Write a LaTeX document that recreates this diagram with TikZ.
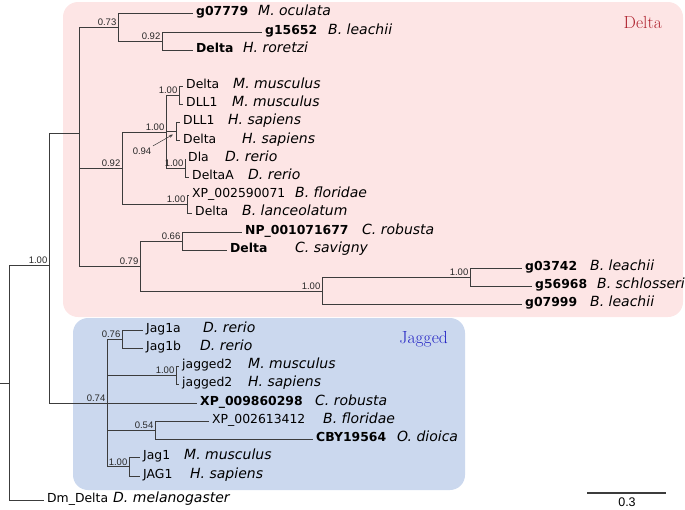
\documentclass[tikz,border=0pt]{standalone}
\usepackage{fontspec}
\newfontfamily\idfont{Liberation Sans}
\newfontfamily\djv{DejaVu Sans}
\usetikzlibrary{arrows.meta}
\definecolor{lc}{RGB}{60,60,60}
\definecolor{pinkbg}{RGB}{253,229,229}
\definecolor{bluebg}{RGB}{203,216,238}
\definecolor{deltared}{RGB}{176,36,48}
\definecolor{jagblue}{RGB}{36,36,196}
\definecolor{txtg}{RGB}{40,40,40}
\newcommand{\tleaf}[6]{%
  \coordinate (#1) at (#2,#3);
  \node[idl] (#1-id) at ([xshift=3pt]#1) {#4};
  \node[spl] (#1-sp) at (#5,#3) {#6};
}
\begin{document}
\begin{tikzpicture}[x=1pt,y=-1pt,
  br/.style={draw=lc, line width=0.9pt},
  idl/.style={anchor=mid west, inner sep=0pt, font=\djv\fontsize{12.4}{14}\selectfont, text=black},
  spl/.style={anchor=mid west, inner sep=0pt, font=\djv\itshape\fontsize{14}{16}\selectfont, text=black},
  bsl/.style={anchor=south east, inner sep=1.5pt, font=\idfont\fontsize{9.5}{11}\selectfont, text=txtg},
  grp/.style={font=\fontsize{17.5}{20}\selectfont, inner sep=0pt}
]
\useasboundingbox (0,0) rectangle (685,509);
% clade boxes
\fill[pinkbg, rounded corners=15pt] (63,2) rectangle (683,317);
\fill[bluebg, rounded corners=15pt] (73,318) rectangle (465,490);
\node[grp, text=deltared, anchor=east] (gdelta) at (662,22) {Delta};
\node[grp, text=jagblue, anchor=east] (gjag) at (448,339) {Jagged};

% internal nodes
\coordinate (R0) at (0,383);
\coordinate (R) at (9,383);
\coordinate (A) at (49,265);
\coordinate (D) at (79,133);
\coordinate (J) at (107,403);
\coordinate (n73) at (118,27);
\coordinate (n92a) at (162,41);
\coordinate (n92b) at (122,168);
\coordinate (V) at (166,132);
\coordinate (Mm) at (179,95.4);
\coordinate (Hs) at (176,131.8);
\coordinate (Dr) at (185,168.2);
\coordinate (Am) at (187,204.6);
\coordinate (n79) at (140,266);
\coordinate (n66) at (182,241);
\coordinate (N1) at (322,291);
\coordinate (N2) at (470,277);
\coordinate (n76) at (122,339.1);
\coordinate (jg2) at (176,375.6);
\coordinate (n54) at (155,430.4);
\coordinate (jg1) at (129,466.9);

% leaves
\tleaf{g07779}{193}{13.5}{\textbf{g07779}}{258}{M. oculata}
\tleaf{g15652}{262}{32}{\textbf{g15652}}{328}{B. leachii}
\tleaf{dHr}{193}{50}{\textbf{Delta}}{243}{H. roretzi}
\tleaf{dMm}{183}{86.3}{Delta}{233}{M. musculus}
\tleaf{lMm}{183}{104.5}{DLL1}{232}{M. musculus}
\tleaf{lHs}{180}{122.7}{DLL1}{228}{H. sapiens}
\tleaf{dHs}{180}{140.9}{Delta}{242}{H. sapiens}
\tleaf{dla}{185}{159}{Dla}{225}{D. rerio}
\tleaf{dlA}{189}{177.3}{DeltaA}{248}{D. rerio}
\tleaf{xp59}{189}{195.5}{XP\_002590071}{295}{B. floridae}
\tleaf{dBl}{192}{213.7}{Delta}{242}{B. lanceolatum}
\tleaf{np}{242}{232}{\textbf{NP\_001071677}}{362}{C. robusta}
\tleaf{dCs}{227}{250}{\textbf{Delta}}{295}{C. savigny}
\tleaf{g03742}{522}{268}{\textbf{g03742}}{590}{B. leachii}
\tleaf{g56968}{532}{286.5}{\textbf{g56968}}{597}{B. schlosseri}
\tleaf{g07999}{522}{304.7}{\textbf{g07999}}{590}{B. leachii}
\tleaf{j1a}{143}{330}{Jag1a}{203}{D. rerio}
\tleaf{j1b}{143}{348.2}{Jag1b}{200}{D. rerio}
\tleaf{j2Mm}{179}{366.5}{jagged2}{248}{M. musculus}
\tleaf{j2Hs}{179}{384.7}{jagged2}{248}{H. sapiens}
\tleaf{xp98}{197}{403}{\textbf{XP\_009860298}}{315}{C. robusta}
\tleaf{xp61}{209}{421.2}{XP\_002613412}{323}{B. floridae}
\tleaf{cby}{313}{439.5}{\textbf{CBY19564}}{397}{O. dioica}
\tleaf{jMm}{140}{457.8}{Jag1}{184}{M. musculus}
\tleaf{jHs}{140}{476}{JAG1}{190}{H. sapiens}
\tleaf{dm}{44}{500}{Dm\_Delta}{113}{D. melanogaster}

% branches
\draw[br] (R0) -- (R);
\foreach \p/\c in {R/A, R/dm, A/D, A/J, D/n73, D/n92b, D/n79,
  n73/g07779, n73/n92a, n92a/g15652, n92a/dHr,
  n92b/V, n92b/Am, V/Mm, V/Hs, V/Dr, Mm/dMm, Mm/lMm, Hs/lHs, Hs/dHs,
  Dr/dla, Dr/dlA, Am/xp59, Am/dBl,
  n79/n66, n79/N1, n66/np, n66/dCs, N1/N2, N1/g07999, N2/g03742, N2/g56968,
  J/n76, J/jg2, J/xp98, J/n54, J/jg1, n76/j1a, n76/j1b, jg2/j2Mm, jg2/j2Hs,
  n54/xp61, n54/cby, jg1/jMm, jg1/jHs}
  \draw[br] (\p) |- (\c);

% support values
\node[bsl] (bA) at (A) {1.00};
\node[bsl] (bJ) at (J) {0.74};
\node[bsl] (b73) at (n73) {0.73};
\node[bsl] (b92a) at (n92a) {0.92};
\node[bsl] (b92b) at (n92b) {0.92};
\node[bsl] (bV) at (V) {1.00};
\node[bsl] (bMm) at (Mm) {1.00};
\node[bsl] (bDr) at (Dr) {1.00};
\node[bsl] (bAm) at (Am) {1.00};
\node[bsl] (b79) at (n79) {0.79};
\node[bsl] (b66) at (n66) {0.66};
\node[bsl] (bN1) at (N1) {1.00};
\node[bsl] (bN2) at (N2) {1.00};
\node[bsl] (b76) at (n76) {0.76};
\node[bsl] (bjg2) at (jg2) {1.00};
\node[bsl] (b54) at (n54) {0.54};
\node[bsl] (bjg1) at (jg1) {1.00};
\node[bsl, anchor=center] (bHs) at (142,151) {0.94};
\coordinate (HsTip) at (173,134.5);
\draw[lc, line width=0.5pt, -{Stealth[length=4pt,width=3pt]}] (bHs.north east) -- (HsTip);

% scale bar
\coordinate (sb1) at (587,493);
\coordinate (sb2) at (666,493);
\draw[lc, line width=1.6pt] (sb1) -- (sb2);
\node[font=\idfont\fontsize{12.5}{14}\selectfont, inner sep=0pt] (sbl) at (627,502) {0.3};
\end{tikzpicture}
\end{document}
